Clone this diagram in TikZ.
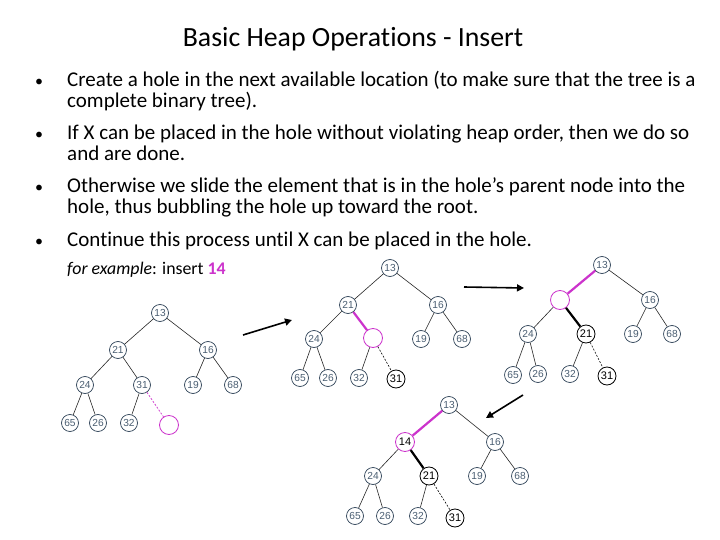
\documentclass[tikz,border=0pt]{standalone}
\usepackage{fontspec}
\setmainfont[Ligatures={NoCommon}]{Carlito}
\newfontfamily\nodefont{Liberation Sans}
\usetikzlibrary{arrows.meta}
\definecolor{nodegray}{HTML}{2E4257}
\definecolor{txtgray}{HTML}{4A5E72}
\definecolor{holec}{HTML}{CC33CC}
\tikzset{
 hn/.style={circle,draw=nodegray,line width=0.7pt,minimum size=17pt,inner sep=0pt,font=\nodefont\fontsize{10.2}{11}\selectfont,text=txtgray,fill=white},
 bn/.style={circle,draw=black,line width=0.8pt,minimum size=18pt,inner sep=0pt,font=\nodefont\fontsize{11}{12}\selectfont,text=black,fill=white},
 holen/.style={circle,draw=holec,line width=0.8pt,minimum size=19pt,inner sep=0pt,fill=white},
 pn/.style={circle,draw=holec,line width=0.8pt,minimum size=19pt,inner sep=0pt,fill=white,font=\nodefont\fontsize{11}{12}\selectfont,text=black},
 ed/.style={draw=black!85,line width=0.6pt},
 magthick/.style={draw=holec,line width=2.2pt},
 blkthick/.style={draw=black,line width=2.2pt},
 dsh/.style={draw=black,line width=0.6pt,dash pattern=on 2pt off 1.5pt},
 magdsh/.style={draw=holec,line width=0.7pt,dash pattern=on 2pt off 1.5pt},
 arr/.style={-{Triangle[length=7pt,width=7pt]},line width=1.6pt},
 txt/.style={anchor=base west,inner sep=0pt,font=\fontsize{21}{22}\selectfont},
}
\begin{document}
\begin{tikzpicture}[x=1pt,y=-1pt]
\useasboundingbox (0,0) rectangle (720,540);
\fill[white] (0,0) rectangle (720,540);
% title
\node[anchor=base,inner sep=0pt,font=\fontsize{27.8}{29}\selectfont] (title) at (353,47) {Basic Heap Operations - Insert};
% bullets
\foreach \yy/\nm in {87/b1,140/b2,193/b3,247/b4}
  \node[txt,font=\fontsize{16}{18}\selectfont] (\nm) at (35,\yy) {•};
\node[txt] (l1) at (67,87) {Create a hole in the next available location (to make sure that the tree is a};
\node[txt] (l1b) at (67,108) {complete binary tree).};
\node[txt] (l2) at (67,140) {If X can be placed in the hole without violating heap order, then we do so};
\node[txt] (l2b) at (67,161) {and are done.};
\node[txt] (l3) at (67,193) {Otherwise we slide the element that is in the hole’s parent node into the};
\node[txt] (l3b) at (67,214) {hole, thus bubbling the hole up toward the root.};
\node[txt] (l4) at (67,247) {Continue this process until X can be placed in the hole.};
\node[anchor=base west,inner sep=0pt,font=\fontsize{17.8}{19}\selectfont] (ex) at (67,274) {\textit{for example}: insert \textcolor{holec}{\textbf{14}}};

% tree 1
\node[hn] (a13) at (160,313) {13};
\node[hn] (a21) at (118,350) {21};
\node[hn] (a16) at (208,350) {16};
\node[hn] (a24) at (85,385) {24};
\node[hn] (a31) at (142,385) {31};
\node[hn] (a19) at (193,385) {19};
\node[hn] (a68) at (233,385) {68};
\node[hn] (a65) at (70,423) {65};
\node[hn] (a26) at (98,423) {26};
\node[hn] (a32) at (129,423) {32};
\node[holen] (ah) at (169,425) {};
\draw[ed] (a13)--(a21); \draw[ed] (a13)--(a16);
\draw[ed] (a21)--(a24); \draw[ed] (a21)--(a31);
\draw[ed] (a16)--(a19); \draw[ed] (a16)--(a68);
\draw[ed] (a24)--(a65); \draw[ed] (a24)--(a26);
\draw[ed] (a31)--(a32); \draw[magdsh] (a31)--(ah);

% tree 2
\node[hn] (b13) at (390,268) {13};
\node[hn] (b21) at (348,305) {21};
\node[hn] (b16) at (438,305) {16};
\node[hn] (b24) at (314,339) {24};
\node[holen] (bh) at (373,338) {};
\node[hn] (b19) at (421,339) {19};
\node[hn] (b68) at (462,339) {68};
\node[hn] (b65) at (300,378) {65};
\node[hn] (b26) at (328,378) {26};
\node[hn] (b32) at (359,378) {32};
\node[bn] (b31) at (396,379) {31};
\draw[ed] (b13)--(b21); \draw[ed] (b13)--(b16);
\draw[ed] (b21)--(b24); \draw[magthick] (b21)--(bh);
\draw[ed] (b16)--(b19); \draw[ed] (b16)--(b68);
\draw[ed] (b24)--(b65); \draw[ed] (b24)--(b26);
\draw[ed] (bh)--(b32); \draw[dsh] (bh)--(b31);

% tree 3
\node[hn] (c13) at (602,265) {13};
\node[holen] (ch) at (560,300) {};
\node[hn] (c16) at (650,300) {16};
\node[hn] (c24) at (528,334) {24};
\node[bn] (c21) at (586,334) {21};
\node[hn] (c19) at (633,334) {19};
\node[hn] (c68) at (672,334) {68};
\node[hn] (c65) at (513,375) {65};
\node[hn] (c26) at (538,374) {26};
\node[hn] (c32) at (570,374) {32};
\node[bn] (c31) at (607,376) {31};
\draw[magthick] (c13)--(ch); \draw[ed] (c13)--(c16);
\draw[ed] (ch)--(c24); \draw[blkthick] (ch)--(c21);
\draw[ed] (c16)--(c19); \draw[ed] (c16)--(c68);
\draw[ed] (c24)--(c65); \draw[ed] (c24)--(c26);
\draw[ed] (c21)--(c32); \draw[dsh] (c21)--(c31);

% tree 4
\node[hn] (d13) at (449,405) {13};
\node[pn] (d14) at (405,442) {14};
\node[hn] (d16) at (495,442) {16};
\node[hn] (d24) at (373,476) {24};
\node[bn] (d21) at (429,476) {21};
\node[hn] (d19) at (477,476) {19};
\node[hn] (d68) at (520,476) {68};
\node[hn] (d65) at (355,516) {65};
\node[hn] (d26) at (385,516) {26};
\node[hn] (d32) at (418,516) {32};
\node[bn] (d31) at (455,518) {31};
\draw[magthick] (d13)--(d14); \draw[ed] (d13)--(d16);
\draw[ed] (d14)--(d24); \draw[blkthick] (d14)--(d21);
\draw[ed] (d16)--(d19); \draw[ed] (d16)--(d68);
\draw[ed] (d24)--(d65); \draw[ed] (d24)--(d26);
\draw[ed] (d21)--(d32); \draw[dsh] (d21)--(d31);

% arrows
\coordinate (p1s) at (243,335); \coordinate (p1e) at (292,320);
\coordinate (p2s) at (464,287); \coordinate (p2e) at (524,288);
\coordinate (p3s) at (523,395); \coordinate (p3e) at (486,418);
\draw[arr] (p1s)--(p1e);
\draw[arr] (p2s)--(p2e);
\draw[arr] (p3s)--(p3e);
\end{tikzpicture}
\end{document}
